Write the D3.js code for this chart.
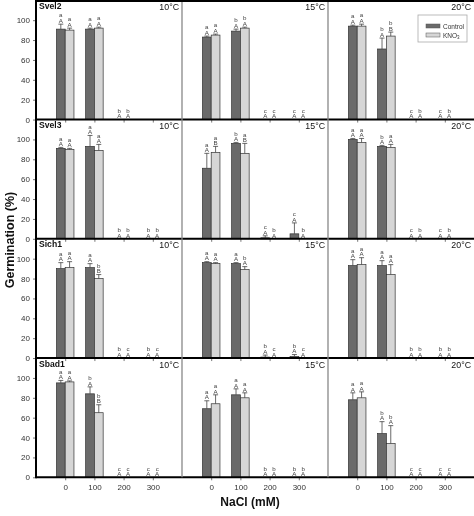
<!DOCTYPE html>
<html><head><meta charset="utf-8">
<script src="https://cdn.jsdelivr.net/npm/d3@7"></script>
<style>body{margin:0;background:#fff}svg{display:block;font-family:Arial,"Liberation Sans",sans-serif;will-change:transform}</style>
</head><body><svg id="c" width="474" height="516"></svg>
<script>
const species = ["Svel2", "Svel3", "Sich1", "Sbad1"];
const temps = ["10°C", "15°C", "20°C"];
const nacl = [0, 100, 200, 300];
const yTicks = [0, 20, 40, 60, 80, 100];
const seriesNames = ["Control", "KNO3"];

// [species][temp][nacl]
const controlMean = [
  [[91, 91, 0, null], [83, 89, 0, 0], [94, 71, 0, 0]],
  [[91, 93, 0, 0], [71, 96, 1, 5], [100, 93, 0, 0]],
  [[90, 91, 0, 0], [96, 95, 1, 1.5], [93, 93, 0, 0]],
  [[95, 84, 0, 0], [69, 83, 0, 0], [78, 44, 0, 0]]
];
const controlErr = [
  [[5, 1, 0, 0], [1, 2, 0, 0], [1, 11, 0, 0]],
  [[1, 11, 0, 0], [15, 1, 2, 11], [1, 1, 0, 0]],
  [[6, 4, 0, 0], [1, 1, 2, 2], [6, 5, 0, 0]],
  [[2.5, 7, 0, 0], [8, 6, 0, 0], [7, 12, 0, 0]]
];
const kno3Mean = [
  [[90, 92, 0, null], [85, 92, 0, 0], [94, 84, 0, 0]],
  [[90, 89, 0, 0], [87, 86, 0, 0], [97, 92, 0, 0]],
  [[91, 80, 0, 0], [95, 89, 0, 0], [94, 84, 0, 0]],
  [[96, 65, 0, 0], [74, 80, 0, 0], [80, 34, 0, 0]]
];
const kno3Err = [
  [[2, 1, 0, 0], [1, 1, 0, 0], [2, 4, 0, 0]],
  [[1, 6, 0, 0], [6, 10, 0, 0], [4, 3, 0, 0]],
  [[6, 4, 0, 0], [1, 3, 0, 0], [7, 10, 0, 0]],
  [[1, 8, 0, 0], [9, 5, 0, 0], [6, 18, 0, 0]]
];
const controlLetters = [
  [["aA", "aA", "bA", ""], ["aA", "bA", "cA", "cA"], ["aA", "bA", "cA", "cA"]],
  [["aA", "aA", "bA", "bA"], ["aA", "bA", "cA", "cA"], ["aA", "bA", "cA", "cA"]],
  [["aA", "aA", "bA", "bA"], ["aA", "aA", "bA", "bA"], ["aA", "aA", "bA", "bA"]],
  [["aA", "bA", "cA", "cA"], ["aA", "aA", "bA", "bA"], ["aA", "bA", "cA", "cA"]]
];
const kno3Letters = [
  [["aA", "aA", "bA", ""], ["aA", "bA", "cA", "cA"], ["aA", "bB", "bA", "bA"]],
  [["aA", "aA", "bA", "bA"], ["aB", "aB", "bA", "bA"], ["aA", "aA", "bA", "bA"]],
  [["aA", "bB", "cA", "cA"], ["aA", "bA", "cA", "cA"], ["aA", "aA", "bA", "bA"]],
  [["aA", "bB", "cA", "cA"], ["aA", "aA", "bA", "bA"], ["aA", "bA", "cA", "cA"]]
];

const colors = ["#6a6a6a", "#d6d6d6"];
const svg = d3.select("#c");
const left = 36, right = 474, top0 = 0.3, rowH = 119.25;
const panelW = (right - left) / 3;
const FONT = "Arial, Liberation Sans, sans-serif";

function drawSeries(g, x, y, means, errs, letters, side, color) {
  const bw = x(30) - x(0);
  nacl.forEach((n, i) => {
    const v = means[i];
    if (v === null) return;
    const bx = side < 0 ? x(n) - bw : x(n);
    if (v > 0) {
      g.append("rect").attr("x", bx).attr("y", y(v)).attr("width", bw)
        .attr("height", y(0) - y(v)).attr("fill", color)
        .attr("stroke", "#333").attr("stroke-width", 0.7);
    }
    const e = errs[i];
    const cx = bx + bw / 2;
    if (e > 0) {
      g.append("line").attr("x1", cx).attr("x2", cx).attr("y1", y(v)).attr("y2", y(v + e))
        .attr("stroke", "#444").attr("stroke-width", 0.8);
      g.append("line").attr("x1", cx - 2.5).attr("x2", cx + 2.5).attr("y1", y(v + e)).attr("y2", y(v + e))
        .attr("stroke", "#444").attr("stroke-width", 0.8);
    }
    const L = letters[i];
    if (L) {
      const t = y(v + e);
      g.append("text").attr("x", cx).attr("y", t - 6.8).attr("text-anchor", "middle")
        .attr("font-size", 6.2).attr("fill", "#444").text(L[0]);
      g.append("text").attr("x", cx).attr("y", t - 1.3).attr("text-anchor", "middle")
        .attr("font-size", 6.2).attr("fill", "#444").text(L[1]);
    }
  });
}

species.forEach((sp, r) => {
  const bottom = top0 + (r + 1) * rowH;
  temps.forEach((tp, c) => {
    const x0 = left + c * panelW, x1 = x0 + panelW;
    const x = d3.scaleLinear().domain([-100, 400]).range([x0, x1]);
    const y = d3.scaleLinear().domain([0, 120]).range([bottom, bottom - rowH]);
    const g = svg.append("g");

    const xa = g.append("g").attr("transform", `translate(0,${bottom})`)
      .call(d3.axisBottom(x).tickValues(nacl).tickSize(3).tickFormat(r === 3 ? d3.format("d") : ""));
    xa.select(".domain").remove();
    xa.selectAll(".tick line").attr("stroke", "#777");
    xa.selectAll(".tick text").attr("font-size", 8).attr("fill", "#333").attr("dy", "0.9em")
      .attr("font-family", FONT);

    if (c === 0) {
      const ya = g.append("g").attr("transform", `translate(${left},0)`)
        .call(d3.axisLeft(y).tickValues(yTicks).tickSize(3));
      ya.select(".domain").remove();
      ya.selectAll(".tick line").attr("stroke", "#777");
      ya.selectAll(".tick text").attr("font-size", 8).attr("fill", "#333")
        .attr("font-family", FONT);
    }

    drawSeries(g, x, y, controlMean[r][c], controlErr[r][c], controlLetters[r][c], -1, colors[0]);
    drawSeries(g, x, y, kno3Mean[r][c], kno3Err[r][c], kno3Letters[r][c], 1, colors[1]);

    if (c === 0) {
      g.append("text").attr("x", x0 + 3).attr("y", bottom - rowH + 8.6)
        .attr("font-size", 8.6).attr("font-weight", "bold").attr("fill", "#111").text(sp);
    }
    g.append("text").attr("x", x1 - 3).attr("y", bottom - rowH + 9.5).attr("text-anchor", "end")
      .attr("font-size", 8.8).attr("fill", "#111").text(tp);

    g.append("line").attr("x1", x0).attr("x2", x1).attr("y1", bottom).attr("y2", bottom)
      .attr("stroke", "#000").attr("stroke-width", 2);
  });
});

[1, 2].forEach(c => {
  const xs = left + c * panelW;
  svg.append("line").attr("x1", xs).attr("x2", xs).attr("y1", 0).attr("y2", top0 + 4 * rowH)
    .attr("stroke", "#888").attr("stroke-width", 1.3);
});
svg.append("line").attr("x1", left).attr("x2", left).attr("y1", 0).attr("y2", top0 + 4 * rowH + 1)
  .attr("stroke", "#000").attr("stroke-width", 2);
svg.append("line").attr("x1", left).attr("x2", right).attr("y1", 1).attr("y2", 1)
  .attr("stroke", "#000").attr("stroke-width", 2);

const lg = svg.append("g").attr("transform", "translate(418,15)");
lg.append("rect").attr("width", 49).attr("height", 27).attr("fill", "#fff")
  .attr("stroke", "#aaa").attr("stroke-width", 0.8);
seriesNames.forEach((s, i) => {
  lg.append("rect").attr("x", 8).attr("y", 9 + i * 9).attr("width", 14).attr("height", 4)
    .attr("fill", colors[i]).attr("stroke", "#555").attr("stroke-width", 0.5);
  const t = lg.append("text").attr("x", 25).attr("y", 13.5 + i * 9).attr("font-size", 6.5).attr("fill", "#333");
  if (s === "KNO3") {
    t.append("tspan").text("KNO");
    t.append("tspan").attr("font-size", 4.5).attr("dy", 1.5).text("3");
  } else t.text(s);
});

svg.append("text").attr("transform", "translate(14,240) rotate(-90)").attr("text-anchor", "middle")
  .attr("font-size", 12.5).attr("font-weight", "bold").attr("fill", "#111").text("Germination (%)");
svg.append("text").attr("x", 250).attr("y", 506).attr("text-anchor", "middle")
  .attr("font-size", 12).attr("font-weight", "bold").attr("fill", "#111").text("NaCl (mM)");
</script></body></html>
